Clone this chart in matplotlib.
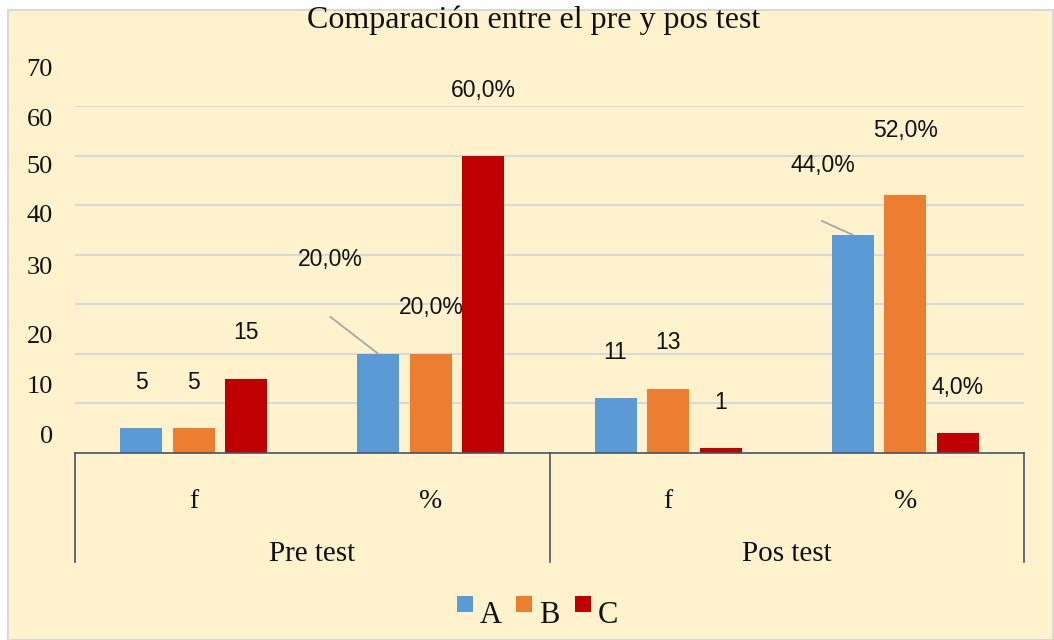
"""Comparación entre el pre y pos test: grouped bars with two-level category axis."""
import numpy as np
import matplotlib
matplotlib.use("Agg")
import matplotlib.pyplot as plt
from matplotlib.patches import Rectangle
from matplotlib.transforms import blended_transform_factory

# ---- data -------------------------------------------------------------
title = "Comparación entre el pre y pos test"
outer_groups = ["Pre test", "Pos test"]
inner_cats = ["f", "%", "f", "%"]
series_names = ["A", "B", "C"]
a_vals = [5, 20, 11, 44]
b_vals = [5, 20, 13, 52]
c_vals = [15, 60, 1, 4]
a_labels = ["5", "20,0%", "11", "44,0%"]
b_labels = ["5", "20,0%", "13", "52,0%"]
c_labels = ["15", "60,0%", "1", "4,0%"]
y_tick_labels = ["70", "60", "50", "40", "30", "20", "10", "0"]

# ---- layout / style ---------------------------------------------------
COLORS = ["#5B9BD5", "#ED7D31", "#C00000"]
BG = "#FFF2CC"
AXIS_C = "#44546A"
SERIF = ["Liberation Serif", "DejaVu Serif"]
SANS = ["Liberation Sans", "DejaVu Sans"]
W, H = 1054, 640
# y positions (data units) where the value-axis labels sit, as in the original
YLABEL_POS = [77.2, 67.2, 57.7, 47.8, 37.3, 23.4, 13.3, 3.2]
# data label offsets in pixels (default is (0, 46))
LABEL_OFFSETS = {(2, 1): (0, 65), (1, 3): (0, 65),
                 (0, 1): (-48, 94), (0, 3): (-30, 69)}
LEADERS = {(0, 1): (-48, 37), (0, 3): (-31, 14)}
LEGEND_X = [457, 516, 575]   # left edge of each legend swatch, px

fig = plt.figure(figsize=(W / 100, H / 100), dpi=100)
fig.patch.set_facecolor("white")
fig.patches.append(Rectangle((8 / W, 0), 1045 / W, 630 / H, transform=fig.transFigure,
                             facecolor=BG, edgecolor="#D9D9D9", lw=1.5, zorder=-10))

ax = fig.add_axes([75 / W, (H - 453) / H, 949 / W, 347 / H])
ax.set_facecolor("none")
ax.set_xlim(-0.5, 3.5)
ax.set_ylim(0, 70)
ax.set_yticks(np.arange(10, 80, 10))
ax.tick_params(left=False, labelleft=False, bottom=False, labelbottom=False)
ax.grid(axis="y", color="#D9D9D9", lw=1.5)
ax.set_axisbelow(True)
for s in ["top", "right", "left"]:
    ax.spines[s].set_visible(False)
ax.spines["bottom"].set_color(AXIS_C)
ax.spines["bottom"].set_linewidth(1.2)

x = np.arange(len(inner_cats))
width, step = 0.177, 0.2215
all_vals = [a_vals, b_vals, c_vals]
all_labels = [a_labels, b_labels, c_labels]
for i, (vals, labs) in enumerate(zip(all_vals, all_labels)):
    xs = x + (i - 1) * step
    ax.bar(xs, vals, width=width, color=COLORS[i], zorder=2)
    for j, (xx, v, lab) in enumerate(zip(xs, vals, labs)):
        off = LABEL_OFFSETS.get((i, j), (0, 46))
        ax.annotate(lab, xy=(xx, v), xytext=off, textcoords="offset pixels",
                    ha="center", va="center", fontsize=16.5, family=SANS,
                    color="#111111", annotation_clip=False)
        if (i, j) in LEADERS:
            ax.annotate("", xy=(xx, v), xytext=LEADERS[(i, j)], textcoords="offset pixels",
                        arrowprops=dict(arrowstyle="-", color="#A6A6A6", lw=1.3,
                                        shrinkA=0, shrinkB=0), annotation_clip=False)

# value-axis labels
tr_y = blended_transform_factory(ax.transAxes, ax.transData)
for pos, lab in zip(YLABEL_POS, y_tick_labels):
    ax.text(-22 / 949, pos, lab, transform=tr_y, ha="right", va="center",
            fontsize=19, family=SERIF, color="#111111", clip_on=False)

# two-level category axis
tr_x = blended_transform_factory(ax.transData, ax.transAxes)
for xv in [-0.5, 1.5, 3.5]:
    ax.plot([xv, xv], [0, -0.314], transform=tr_x, color=AXIS_C, lw=1.2, clip_on=False)
for xx, lab in zip(x, inner_cats):
    ax.text(xx, -0.1585, lab, transform=tr_x, ha="center", va="baseline",
            fontsize=20, family=SERIF, color="#111111")
for k, lab in enumerate(outer_groups):
    ax.text(2 * k + 0.5, -0.311, lab, transform=tr_x, ha="center", va="baseline",
            fontsize=21, family=SERIF, color="#111111")

fig.text(533.5 / W, 1 - 28 / H, title, ha="center", va="baseline",
         fontsize=23, family=SERIF, color="#111111")

# legend (swatches sit a little higher than the text, as in the original)
for lx, name, c in zip(LEGEND_X, series_names, COLORS):
    fig.patches.append(Rectangle((lx / W, 1 - 612 / H), 16 / W, 16 / H,
                                 transform=fig.transFigure, facecolor=c, edgecolor="none"))
    fig.text((lx + 23) / W, 1 - 623 / H, name, ha="left", va="baseline",
             fontsize=22, family=SERIF, color="#111111")

fig.savefig("out.png", dpi=100)
